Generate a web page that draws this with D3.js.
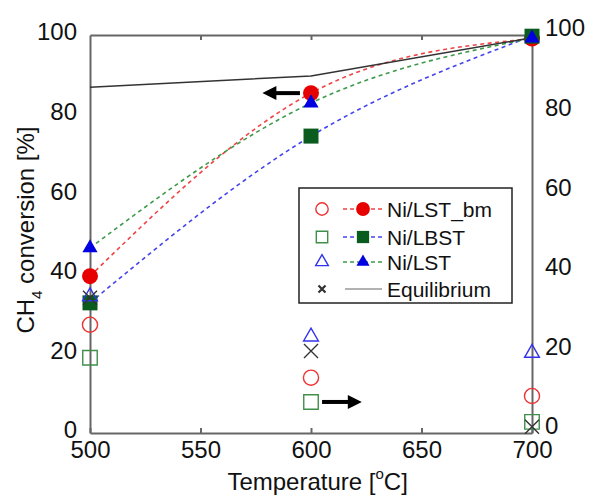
<!DOCTYPE html>
<html>
<head>
<meta charset="utf-8">
<script src="https://cdn.jsdelivr.net/npm/d3@7"></script>
<style>
  body { margin: 0; background: #fff; }
  svg { font-family: Arial, "Liberation Sans", sans-serif; }
  .axis path, .axis line { stroke: #666; stroke-width: 2; }
  .axis text { fill: #111; font-size: 24px; }
</style>
</head>
<body>
<div id="chart"></div>
<script>
(function(d3) {
  'use strict';

  // data
  var temps = [500, 600, 700];
  var xTicks = [500, 550, 600, 650, 700];
  var yTicks = [0, 20, 40, 60, 80, 100];
  var seriesNames = ['Ni/LST_bm', 'Ni/LBST', 'Ni/LST', 'Equilibrium'];

  // CH4 conversion, left axis (filled markers)
  var convLSTbm = [39.4, 85.4, 99.1];
  var convLBST = [32.7, 74.6, 99.7];
  var convLST = [46.5, 82.9, 99.2];
  var convEq = [86.9, 89.7, 99.3];

  // right axis (open markers)
  var rightLSTbm = [25.9, 12.6, 8.0];
  var rightLBST = [17.6, 6.5, 1.5];
  var rightLST = [33.0, 22.9, 18.8];
  var rightEq = [32.7, 19.3, 0.3];

  var width = 589;
  var height = 497;
  var left = 90, right = 532, top = 35, bottom = 433;

  var svg = d3.select('#chart')
    .append('svg')
    .attr('width', width)
    .attr('height', height);

  var x = d3.scaleLinear().domain([500, 700]).range([left, right]);
  var yL = d3.scaleLinear().domain([0, 100]).range([bottom, top]);
  var yR = d3.scaleLinear().domain([-1.3, 98.7]).range([bottom, top]);

  // axes
  svg.append('g')
    .attr('class', 'axis')
    .attr('transform', 'translate(0,' + bottom + ')')
    .call(d3.axisBottom(x).tickValues(xTicks).tickSizeInner(-5).tickSizeOuter(0).tickPadding(8));

  svg.append('g')
    .attr('class', 'axis')
    .attr('transform', 'translate(0,' + top + ')')
    .call(d3.axisTop(x).tickValues([550, 600, 650]).tickSizeInner(-5).tickSizeOuter(0).tickFormat(''));

  svg.append('g')
    .attr('class', 'axis')
    .attr('transform', 'translate(' + left + ',0)')
    .call(d3.axisLeft(yL).tickValues(yTicks).tickSize(0).tickPadding(13))
    .selectAll('text').attr('dy', '0.2em');

  svg.append('g')
    .attr('class', 'axis')
    .attr('transform', 'translate(' + right + ',0)')
    .call(d3.axisRight(yR).tickValues(yTicks).tickSize(0).tickPadding(13))
    .selectAll('text').attr('dy', '0.25em');

  svg.selectAll('.axis .domain').attr('stroke', '#666').attr('stroke-width', 2);

  // axis labels
  var xl = svg.append('text')
    .attr('x', x(603)).attr('y', 490)
    .attr('text-anchor', 'middle')
    .style('font-size', '24px').style('fill', '#111');
  xl.append('tspan').text('Temperature [');
  xl.append('tspan').attr('dy', -11).style('font-size', '15px').text('o');
  xl.append('tspan').attr('dy', 11).text('C]');

  var yl = svg.append('text')
    .attr('transform', 'translate(34,' + yL(51) + ') rotate(-90)')
    .attr('text-anchor', 'middle')
    .style('font-size', '24px').style('fill', '#111');
  yl.append('tspan').text('CH');
  yl.append('tspan').attr('dy', 8).style('font-size', '15px').text('4');
  yl.append('tspan').attr('dy', -8).text(' conversion [%]');

  // curves
  var curve = function(yScale, vals) {
    return d3.line()
      .x(function(d, i) { return x(temps[i]); })
      .y(function(d) { return yScale(d); })
      .curve(d3.curveNatural)(vals);
  };

  var dashed = [
    { vals: convLSTbm, color: '#ee4444' },
    { vals: convLBST, color: '#4444ee' },
    { vals: convLST, color: '#3d9a4a' }
  ];
  dashed.forEach(function(s) {
    svg.append('path')
      .attr('d', curve(yL, s.vals))
      .attr('fill', 'none')
      .attr('stroke', s.color)
      .attr('stroke-width', 1.6)
      .attr('stroke-dasharray', '4,3.5');
  });

  svg.append('path')
    .attr('d', d3.line()
      .x(function(d, i) { return x(temps[i]); })
      .y(function(d) { return yL(d); })(convEq))
    .attr('fill', 'none')
    .attr('stroke', '#333')
    .attr('stroke-width', 1.5);

  // marker helpers
  var sym = function(type, size) { return d3.symbol().type(type).size(size)(); };
  function xMark(g, cx, cy, r, w) {
    g.append('path')
      .attr('d', 'M' + (cx - r) + ',' + (cy - r) + 'L' + (cx + r) + ',' + (cy + r) +
        'M' + (cx - r) + ',' + (cy + r) + 'L' + (cx + r) + ',' + (cy - r))
      .attr('stroke', '#333').attr('stroke-width', w).attr('fill', 'none');
  }

  // filled markers (left axis)
  var filled = [
    { vals: convLSTbm, type: d3.symbolCircle, size: 200, color: '#e60000' },
    { vals: convLBST, type: d3.symbolSquare, size: 225, color: '#0a5c1e' },
    { vals: convLST, type: d3.symbolTriangle, size: 100, color: '#0000e0' }
  ];
  filled.forEach(function(s) {
    svg.selectAll(null)
      .data(s.vals)
      .enter()
      .append('path')
      .attr('d', sym(s.type, s.size))
      .attr('transform', function(d, i) { return 'translate(' + x(temps[i]) + ',' + yL(d) + ')'; })
      .attr('fill', s.color);
  });

  // open markers (right axis)
  var open = [
    { vals: rightLSTbm, type: d3.symbolCircle, size: 180, color: '#ee3333' },
    { vals: rightLBST, type: d3.symbolSquare, size: 210, color: '#3f8f4a' },
    { vals: rightLST, type: d3.symbolTriangle, size: 95, color: '#3333ee' }
  ];
  open.forEach(function(s) {
    svg.selectAll(null)
      .data(s.vals)
      .enter()
      .append('path')
      .attr('d', sym(s.type, s.size))
      .attr('transform', function(d, i) { return 'translate(' + x(temps[i]) + ',' + yR(d) + ')'; })
      .attr('fill', 'none')
      .attr('stroke', s.color)
      .attr('stroke-width', 1.4);
  });
  rightEq.forEach(function(d, i) {
    xMark(svg, x(temps[i]), yR(d), 7, 1.4);
  });

  // arrows
  function arrow(x0, x1, yy) {
    var dir = x1 > x0 ? 1 : -1;
    svg.append('line')
      .attr('x1', x0).attr('x2', x1 - dir * 10)
      .attr('y1', yy).attr('y2', yy)
      .attr('stroke', '#000').attr('stroke-width', 4);
    svg.append('path')
      .attr('d', 'M' + x1 + ',' + yy + 'L' + (x1 - dir * 14) + ',' + (yy - 7) +
        'L' + (x1 - dir * 14) + ',' + (yy + 7) + 'Z')
      .attr('fill', '#000');
  }
  arrow(x(595), x(578), yL(convLSTbm[1]));
  arrow(x(605), x(623), yR(rightLBST[1]));

  // legend
  var lg = svg.append('g').attr('transform', 'translate(299,188)');
  lg.append('rect')
    .attr('width', 213).attr('height', 115)
    .attr('fill', '#fff').attr('stroke', '#222').attr('stroke-width', 1.5);

  var rows = [21, 49, 74, 101];
  var legendOpen = [
    { type: d3.symbolCircle, size: 120, color: '#ee3333' },
    { type: d3.symbolSquare, size: 130, color: '#3f8f4a' },
    { type: d3.symbolTriangle, size: 70, color: '#3333ee' }
  ];
  var legendLine = ['#ee4444', '#4444ee', '#3d9a4a'];
  var legendFilled = [
    { type: d3.symbolCircle, size: 150, color: '#e60000' },
    { type: d3.symbolSquare, size: 150, color: '#0a5c1e' },
    { type: d3.symbolTriangle, size: 75, color: '#0000e0' }
  ];

  seriesNames.forEach(function(name, i) {
    var yy = rows[i];
    if (i < 3) {
      lg.append('path')
        .attr('d', sym(legendOpen[i].type, legendOpen[i].size))
        .attr('transform', 'translate(23,' + yy + ')')
        .attr('fill', 'none').attr('stroke', legendOpen[i].color).attr('stroke-width', 1.4);
      lg.append('line')
        .attr('x1', 44).attr('x2', 84).attr('y1', yy).attr('y2', yy)
        .attr('stroke', legendLine[i]).attr('stroke-width', 1.6)
        .attr('stroke-dasharray', '4,3');
      lg.append('path')
        .attr('d', sym(legendFilled[i].type, legendFilled[i].size))
        .attr('transform', 'translate(64,' + yy + ')')
        .attr('fill', legendFilled[i].color);
    } else {
      xMark(lg, 23, yy, 3.5, 2.2);
      lg.append('line')
        .attr('x1', 46).attr('x2', 83).attr('y1', yy).attr('y2', yy)
        .attr('stroke', '#999').attr('stroke-width', 1.5);
    }
    lg.append('text')
      .attr('x', 88).attr('y', yy + 8)
      .style('font-size', '21px').style('fill', '#111')
      .text(name);
  });

})(window.d3);
</script>
</body>
</html>
